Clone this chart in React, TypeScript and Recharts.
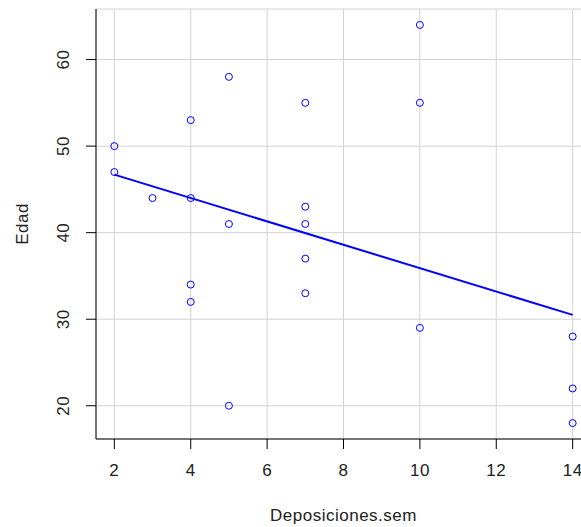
import { ScatterChart, Scatter, XAxis, YAxis, CartesianGrid, Label } from 'recharts';

// Deposiciones.sem vs Edad
const deposiciones = [2, 2, 3, 4, 4, 4, 4, 5, 5, 5, 7, 7, 7, 7, 7, 10, 10, 10, 14, 14, 14];
const edad = [50, 47, 44, 53, 44, 34, 32, 58, 41, 20, 55, 43, 41, 37, 33, 64, 55, 29, 28, 22, 18];

// fitted line endpoints (as drawn)
const fitX = [2, 14];
const fitY = [46.7, 30.5];

const xTicks = [2, 4, 6, 8, 10, 12, 14];
const yTicks = [20, 30, 40, 50, 60];

const points = deposiciones.map((x, i) => ({ x, y: edad[i] }));
const fitLine = fitX.map((x, i) => ({ x, y: fitY[i] }));

const FONT = 'Liberation Sans, Arial, sans-serif';
const TEXT = '#222';
const FS = 17;
const LS = 0.5;

function XTick(props: any) {
  const { x, y, payload } = props;
  return (
    <text x={x} y={y + 27} textAnchor="middle" fontSize={FS} letterSpacing={LS} fontFamily={FONT} fill={TEXT}>
      {payload.value}
    </text>
  );
}

function YTick(props: any) {
  const { x, y, payload } = props;
  const tx = x - 16.5;
  return (
    <text
      x={tx}
      y={y}
      textAnchor="middle"
      transform={`rotate(-90, ${tx}, ${y})`}
      fontSize={FS}
      letterSpacing={LS}
      fontFamily={FONT}
      fill={TEXT}
    >
      {payload.value}
    </text>
  );
}

function YLabel(props: any) {
  const vb = props.viewBox;
  const tx = vb.x + 28;
  const ty = vb.y + vb.height / 2;
  return (
    <text
      x={tx}
      y={ty}
      textAnchor="middle"
      transform={`rotate(-90, ${tx}, ${ty})`}
      fontSize={FS}
      letterSpacing={LS}
      fontFamily={FONT}
      fill={TEXT}
    >
      Edad
    </text>
  );
}

function XLabel(props: any) {
  const vb = props.viewBox;
  return (
    <text
      x={vb.x + vb.width / 2}
      y={vb.y + 82}
      textAnchor="middle"
      fontSize={FS}
      letterSpacing={LS}
      fontFamily={FONT}
      fill={TEXT}
    >
      Deposiciones.sem
    </text>
  );
}

const openCircle = (p: any) => (
  <circle cx={p.cx} cy={p.cy} r={3.5} fill="none" stroke="#0000ff" strokeWidth={1} />
);

export default function App() {
  return (
    <div
      style={{
        position: 'absolute',
        left: 0,
        top: 0,
        width: 581,
        height: 527,
        overflow: 'hidden',
        background: '#fff',
      }}
    >
      <ScatterChart width={600} height={527} margin={{ top: 9, right: 9, left: 0, bottom: 0 }}>
        <CartesianGrid stroke="#d3d3d3" strokeWidth={1} />
        <XAxis
          type="number"
          dataKey="x"
          domain={[1.52, 14.48]}
          ticks={xTicks}
          height={88}
          tickSize={10}
          tickMargin={0}
          tick={<XTick />}
          axisLine={{ stroke: '#000' }}
          tickLine={{ stroke: '#000' }}
        >
          <Label content={<XLabel />} />
        </XAxis>
        <XAxis
          xAxisId="top"
          orientation="top"
          type="number"
          domain={[1.52, 14.48]}
          height={0}
          tick={false}
          tickLine={false}
          axisLine={{ stroke: '#000' }}
        />
        <YAxis
          type="number"
          dataKey="y"
          domain={[16.16, 65.84]}
          ticks={yTicks}
          width={96}
          tickSize={10}
          tickMargin={0}
          tick={<YTick />}
          axisLine={{ stroke: '#000' }}
          tickLine={{ stroke: '#000' }}
        >
          <Label content={<YLabel />} />
        </YAxis>
        <Scatter data={points} shape={openCircle} isAnimationActive={false} />
        <Scatter
          data={fitLine}
          line={{ stroke: '#0000ff', strokeWidth: 2 }}
          shape={() => <g />}
          isAnimationActive={false}
        />
      </ScatterChart>
    </div>
  );
}
